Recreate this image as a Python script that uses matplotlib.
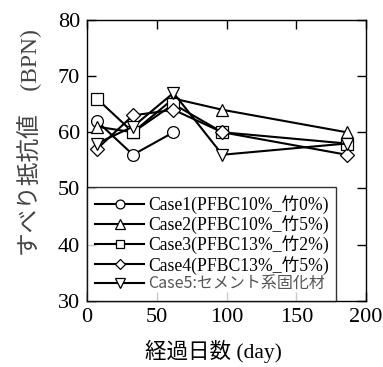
import numpy as np
import matplotlib.pyplot as plt

plt.rcParams['font.family'] = ['Liberation Serif', 'Noto Sans CJK JP']
plt.rcParams['axes.linewidth'] = 1.0

# elapsed days and skid resistance (BPN)
days = [7, 33, 62, 97, 186]
case1 = [62, 56, 60]
case2 = [61, 60, 66, 64, 60]
case3 = [66, 60, 65, 60, 58]
case4 = [57, 63, 64, 60, 56]
case5 = [58, 61, 67, 56, 58]

labels = ['Case1(PFBC10%_竹0%)', 'Case2(PFBC10%_竹5%)', 'Case3(PFBC13%_竹2%)',
          'Case4(PFBC13%_竹5%)', 'Case5:セメント系固化材']
markers = ['o', '^', 's', 'D', 'v']
msizes = [8.5, 9, 8.5, 7, 9]
series = [case1, case2, case3, case4, case5]

fig = plt.figure(figsize=(3.83, 3.67), dpi=100)
ax = fig.add_axes([0.227, 0.180, 0.729, 0.766])

for y, m, ms, lab in zip(series, markers, msizes, labels):
    ax.plot(days[:len(y)], y, color='k', lw=1.5, marker=m, ms=ms,
            mfc='white', mec='k', mew=0.9, label=lab)

ax.set_xlim(0, 200)
ax.set_ylim(30, 80)
ax.set_xticks([0, 50, 100, 150, 200])
ax.set_yticks([30, 40, 50, 60, 70, 80])
ax.tick_params(direction='in', length=6.5, width=1.0, top=True, right=True,
               labelsize=16, pad=5)

ax.set_xlabel('経過日数 (day)', fontsize=15.5)
ax.xaxis.set_label_coords(0.452, -0.178)
ax.xaxis.label.set_va('center')
ax.set_ylabel('すべり抵抗値\u3000(BPN)', fontsize=17, color='#444444')
ax.yaxis.set_label_coords(-0.204, 0.562)
ax.yaxis.label.set_va('center')

leg = ax.legend(loc='lower left', fontsize=12.7, frameon=True, fancybox=False,
                edgecolor='k', borderaxespad=0, handlelength=2.8,
                markerscale=0.75, labelspacing=0.08, handletextpad=0.2,
                borderpad=0.45)
leg.get_frame().set_linewidth(1.0)
leg.get_texts()[-1].set_color('#555555')
leg.get_texts()[-1].set_family(['Noto Sans CJK JP'])
leg.get_texts()[-1].set_fontsize(11.5)

fig.savefig('out.png', dpi=100)
